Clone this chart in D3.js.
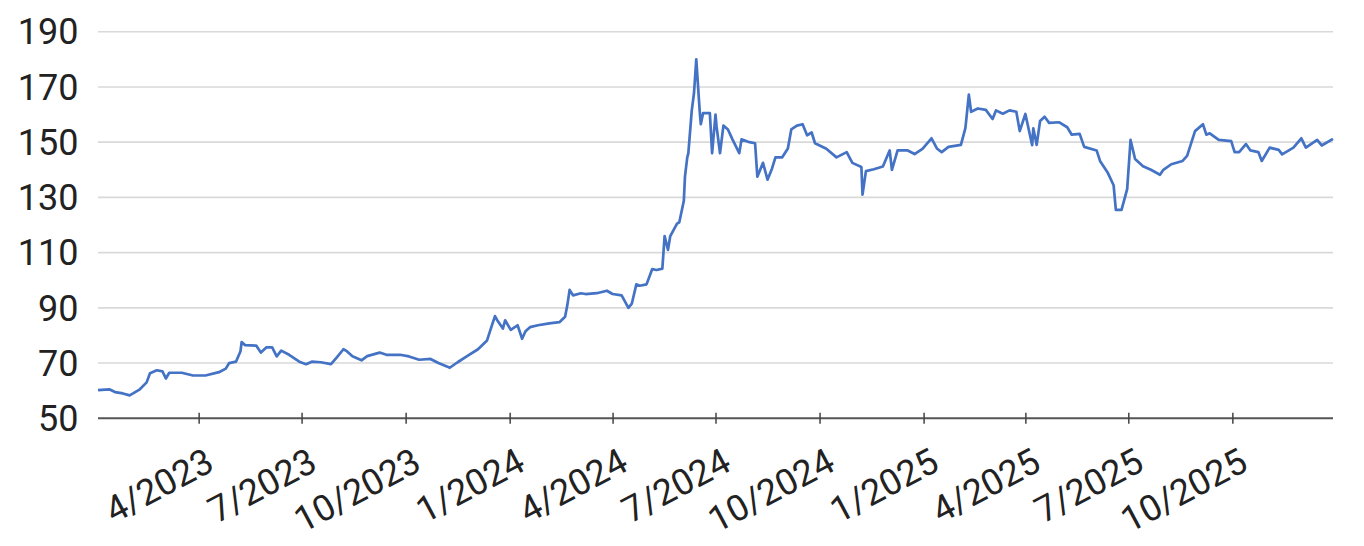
<!DOCTYPE html>
<html>
<head>
<meta charset="utf-8">
<script src="https://cdn.jsdelivr.net/npm/d3@7"></script>
<style>
  body { margin: 0; background: #fff; }
  svg { display: block; font-family: Roboto, "Noto Sans", sans-serif; }
</style>
</head>
<body>
<svg id="chart"></svg>
<script>
// price series
const dates = [
  '2023-01-02','2023-01-12','2023-01-17','2023-01-24','2023-01-30','2023-02-02','2023-02-08','2023-02-14','2023-02-17','2023-02-23',
  '2023-02-28','2023-03-03','2023-03-06','2023-03-17','2023-03-27','2023-04-07','2023-04-19','2023-04-25','2023-04-28','2023-05-04',
  '2023-05-08','2023-05-09','2023-05-12','2023-05-22','2023-05-26','2023-05-31','2023-06-05','2023-06-09','2023-06-13','2023-06-20',
  '2023-06-29','2023-07-05','2023-07-10','2023-07-18','2023-07-27','2023-08-01','2023-08-07','2023-08-10','2023-08-15','2023-08-23',
  '2023-08-28','2023-09-08','2023-09-14','2023-09-26','2023-10-04','2023-10-13','2023-10-23','2023-10-30','2023-11-07','2023-11-09',
  '2023-11-16','2023-11-24','2023-12-04','2023-12-12','2023-12-15','2023-12-19','2023-12-21','2023-12-26','2023-12-28','2024-01-02',
  '2024-01-08','2024-01-12','2024-01-15','2024-01-19','2024-01-26','2024-02-05','2024-02-14','2024-02-19','2024-02-21','2024-02-23',
  '2024-02-26','2024-03-04','2024-03-08','2024-03-18','2024-03-27','2024-04-01','2024-04-09','2024-04-15','2024-04-18','2024-04-22',
  '2024-04-25','2024-05-01','2024-05-06','2024-05-10','2024-05-15','2024-05-17','2024-05-20','2024-05-22','2024-05-28','2024-05-30',
  '2024-06-03','2024-06-04','2024-06-06','2024-06-07','2024-06-10','2024-06-12','2024-06-14','2024-06-17','2024-06-18','2024-06-20',
  '2024-06-26','2024-06-28','2024-07-01','2024-07-02','2024-07-05','2024-07-08','2024-07-12','2024-07-16','2024-07-22','2024-07-24',
  '2024-07-31','2024-08-05','2024-08-07','2024-08-12','2024-08-16','2024-08-20','2024-08-23','2024-08-29','2024-09-03','2024-09-06',
  '2024-09-11','2024-09-16','2024-09-20','2024-09-24','2024-09-27','2024-10-07','2024-10-16','2024-10-25','2024-10-30','2024-11-07',
  '2024-11-08','2024-11-11','2024-11-18','2024-11-26','2024-12-02','2024-12-04','2024-12-09','2024-12-18','2024-12-24','2024-12-31',
  '2025-01-08','2025-01-13','2025-01-17','2025-01-23','2025-02-03','2025-02-07','2025-02-10','2025-02-12','2025-02-18','2025-02-25',
  '2025-03-03','2025-03-06','2025-03-12','2025-03-18','2025-03-24','2025-03-27','2025-04-01','2025-04-07','2025-04-08','2025-04-11',
  '2025-04-14','2025-04-18','2025-04-22','2025-05-01','2025-05-08','2025-05-12','2025-05-19','2025-05-23','2025-06-03','2025-06-06',
  '2025-06-13','2025-06-18','2025-06-20','2025-06-25','2025-06-30','2025-07-03','2025-07-07','2025-07-14','2025-07-21','2025-07-29',
  '2025-08-01','2025-08-08','2025-08-18','2025-08-22','2025-08-29','2025-09-05','2025-09-08','2025-09-11','2025-09-19','2025-09-30',
  '2025-10-03','2025-10-07','2025-10-13','2025-10-17','2025-10-24','2025-10-27','2025-11-03','2025-11-11','2025-11-14','2025-11-24',
  '2025-12-01','2025-12-05','2025-12-15','2025-12-19','2025-12-29'
];

const values = [
  60.2, 60.5, 59.5, 59, 58.3, 59, 60.5, 63, 66.3, 67.4,
  67, 64.4, 66.5, 66.5, 65.5, 65.5, 66.7, 68, 70, 70.5,
  74.3, 77.6, 76.5, 76.3, 73.8, 75.7, 75.7, 72.4, 74.5, 73,
  70.5, 69.6, 70.5, 70.3, 69.6, 72, 75, 74.3, 72.5, 71,
  72.5, 73.8, 73, 73, 72.4, 71.2, 71.5, 70, 68.7, 68.3,
  70.3, 72.4, 75, 78.2, 82, 87, 85.5, 82.5, 85.5, 82,
  83.7, 78.8, 81.5, 83, 83.7, 84.4, 84.8, 86.8, 91, 96.5,
  94.5, 95.3, 95, 95.3, 96.2, 95, 94.5, 90, 91.5, 98.5,
  98, 98.5, 104, 103.7, 104.2, 116, 111, 116, 120.5, 121,
  128.8, 137.5, 144.4, 146, 161.4, 167.8, 180, 161.4, 156.5, 160.5,
  160.5, 146, 160, 155.5, 146, 156, 154.6, 151, 146, 151,
  150, 149.6, 137.5, 142.5, 136.4, 140.5, 144.5, 144.5, 147.7, 154.6,
  156, 156.5, 152.5, 153.5, 149.6, 147.6, 144.5, 146.4, 142.5, 141,
  131, 139.5, 140.2, 141.2, 147, 140, 147, 147, 145.7, 147.6,
  151.4, 147.6, 146.4, 148.3, 149, 155.2, 167.2, 161, 162.2, 161.7,
  158.4, 161.5, 160.3, 161.5, 161, 154, 160.2, 148.9, 155, 149,
  157.7, 159.2, 157, 157.2, 155.4, 152.7, 153, 148.3, 147, 143.2,
  138.8, 134.4, 125.5, 125.5, 133, 150.8, 143.9, 141.3, 140, 138.2,
  140, 142, 143.2, 145, 154, 156.5, 152.7, 153.2, 150.8, 150.4,
  146.4, 146.4, 149.3, 147, 146.4, 143.2, 148, 147.2, 145.6, 148,
  151.4, 148, 150.8, 148.8, 151.2
];

const yTicks = [50, 70, 90, 110, 130, 150, 170, 190];
const xTicks = ['2023-04-01','2023-07-01','2023-10-01','2024-01-01','2024-04-01','2024-07-01',
  '2024-10-01','2025-01-01','2025-04-01','2025-07-01','2025-10-01'];

const width = 1364;
const height = 546;
const margin = { top: 31.7, right: 31, bottom: 127.7, left: 98 };

const parse = d3.utcParse('%Y-%m-%d');
const data = dates.map((d, i) => ({ date: parse(d), value: values[i] }));

const svg = d3.select('#chart')
  .attr('width', width)
  .attr('height', height);

const x = d3.scaleUtc()
  .domain(d3.extent(data, (d) => d.date))
  .range([margin.left, width - margin.right]);

const y = d3.scaleLinear()
  .domain([50, 190])
  .range([height - margin.bottom, margin.top]);

// gridlines
svg.append('g')
  .selectAll('line')
  .data(yTicks.slice(1))
  .enter()
  .append('line')
  .attr('x1', margin.left)
  .attr('x2', width - margin.right)
  .attr('y1', (d) => y(d))
  .attr('y2', (d) => y(d))
  .attr('stroke', '#d9d9d9')
  .attr('stroke-width', 1.6);

// y labels
svg.append('g')
  .selectAll('text')
  .data(yTicks)
  .enter()
  .append('text')
  .attr('x', 78.5)
  .attr('y', (d) => y(d))
  .attr('dy', '0.355em')
  .attr('text-anchor', 'end')
  .attr('font-size', 36)
  .attr('fill', '#222')
  .text((d) => d);

// x axis
const xAxis = d3.axisBottom(x)
  .tickValues(xTicks.map(parse))
  .tickSize(5.5)
  .tickFormat((d) => `${d.getUTCMonth() + 1}/${d.getUTCFullYear()}`);

const gx = svg.append('g')
  .attr('transform', `translate(0, ${y(50)})`)
  .call(xAxis);

gx.select('.domain')
  .attr('d', `M${margin.left},0H${width - margin.right}`)
  .attr('stroke', '#555')
  .attr('stroke-width', 2);

gx.selectAll('.tick line')
  .attr('y1', -5.5)
  .attr('stroke', '#444')
  .attr('stroke-width', 1.5);

gx.selectAll('.tick text')
  .attr('font-size', 36)
  .attr('font-family', 'Roboto, "Noto Sans", sans-serif')
  .attr('fill', '#222')
  .attr('text-anchor', 'end')
  .attr('y', 0)
  .attr('dy', 0)
  .attr('transform', 'translate(17, 51) rotate(-28)');

// the series
const line = d3.line()
  .x((d) => x(d.date))
  .y((d) => y(d.value));

svg.append('path')
  .datum(data)
  .attr('fill', 'none')
  .attr('stroke', '#4472c4')
  .attr('stroke-width', 2.7)
  .attr('stroke-linejoin', 'round')
  .attr('d', line);
</script>
</body>
</html>
